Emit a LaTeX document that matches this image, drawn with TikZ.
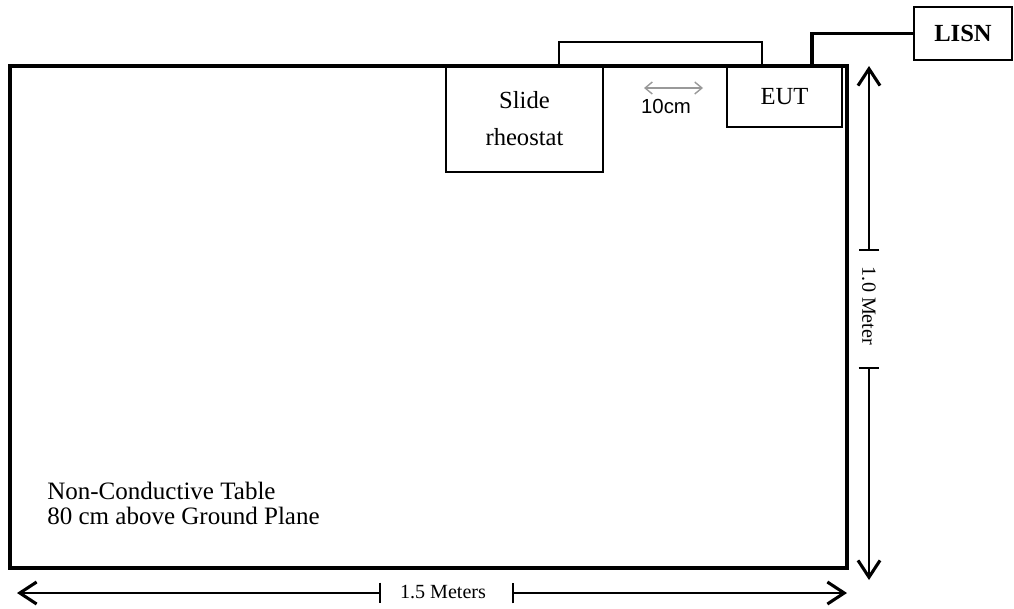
\documentclass[tikz,border=0pt]{standalone}
\usepackage{fontspec}
\setmainfont{Liberation Serif}
\newfontfamily\arialfont{Liberation Sans}
\usetikzlibrary{arrows.meta}
\begin{document}
\begin{tikzpicture}[
  box/.style={rectangle, draw, line width=1.2pt, inner sep=0pt, align=center, font=\fontsize{17.5}{26.3}\selectfont},
  tablebox/.style={rectangle, draw, line width=2.6pt, inner sep=0pt},
  cable/.style={line width=1.2pt},
  power/.style={line width=2.2pt},
  dim/.style={line width=0.9pt},
  dimlabel/.style={inner sep=0pt, font=\fontsize{14.3}{17}\selectfont},
  longtip/.tip={Straight Barb[length=0.42cm, width=0.55cm, line width=2.2pt]},
  ticktip/.tip={Bar[width=0.52cm, line width=1.3pt]},
  gaparrow/.style={gray!80, line width=1pt, {Straight Barb[length=0.18cm, width=0.3cm]}-{Straight Barb[length=0.18cm, width=0.3cm]}}
]
  \useasboundingbox (0,0) rectangle (25.35,-15.2);
  % Nodes
  \node (table) [tablebox, minimum width=20.925cm, minimum height=12.55cm] at (10.7125,-7.925) {};
  \node (rheostat) [box, minimum width=3.925cm, minimum height=2.65cm] at (13.1125,-2.975) {Slide\\rheostat};
  \node (eut) [box, minimum width=2.875cm, minimum height=1.525cm] at (19.6125,-2.4125) {EUT};
  \node (lisn) [box, minimum width=2.45cm, minimum height=1.325cm, font=\fontsize{17.5}{21}\selectfont\bfseries] at (24.075,-0.8375) {LISN};
  \node (note) [anchor=north west, align=left, inner sep=0pt, font=\fontsize{17.8}{17.8}\selectfont] at (1.175,-12.05) {Non-Conductive Table\\80 cm above Ground Plane};
  % Cables
  \draw[cable] ([xshift=0.8625cm]rheostat.north) -- ++(0,0.575) -| ([xshift=-0.5625cm]eut.north);
  \draw[power] ([xshift=0.6875cm]eut.north) |- (lisn.west);
  % Gap
  \coordinate (gap-l) at (16.1,-2.2);
  \coordinate (gap-r) at (17.575,-2.2);
  \draw[gaparrow] (gap-l) -- (gap-r);
  \node (gap-label) [inner sep=0pt, font=\arialfont\fontsize{14.5}{17}\selectfont] at (16.65,-2.65) {10cm};
  % Arrow
  \coordinate (v-top) at (21.725,-1.65);
  \coordinate (v-bot) at (21.725,-14.5);
  \coordinate (v-tick-a) at (21.725,-6.275);
  \coordinate (v-tick-b) at (21.725,-9.175);
  \node (v-label) [dimlabel, rotate=-90] at (21.725,-7.65) {1.0 Meter};
  \draw[dim, ticktip-longtip] (v-tick-a) -- (v-top);
  \draw[dim, ticktip-longtip] (v-tick-b) -- (v-bot);
  \coordinate (h-left) at (0.425,-14.825);
  \coordinate (h-right) at (21.175,-14.825);
  \coordinate (h-tick-a) at (9.525,-14.825);
  \coordinate (h-tick-b) at (12.8,-14.825);
  \node (h-label) [dimlabel] at (11.075,-14.8) {1.5 Meters};
  \draw[dim, ticktip-longtip] (h-tick-a) -- (h-left);
  \draw[dim, ticktip-longtip] (h-tick-b) -- (h-right);
\end{tikzpicture}
\end{document}
